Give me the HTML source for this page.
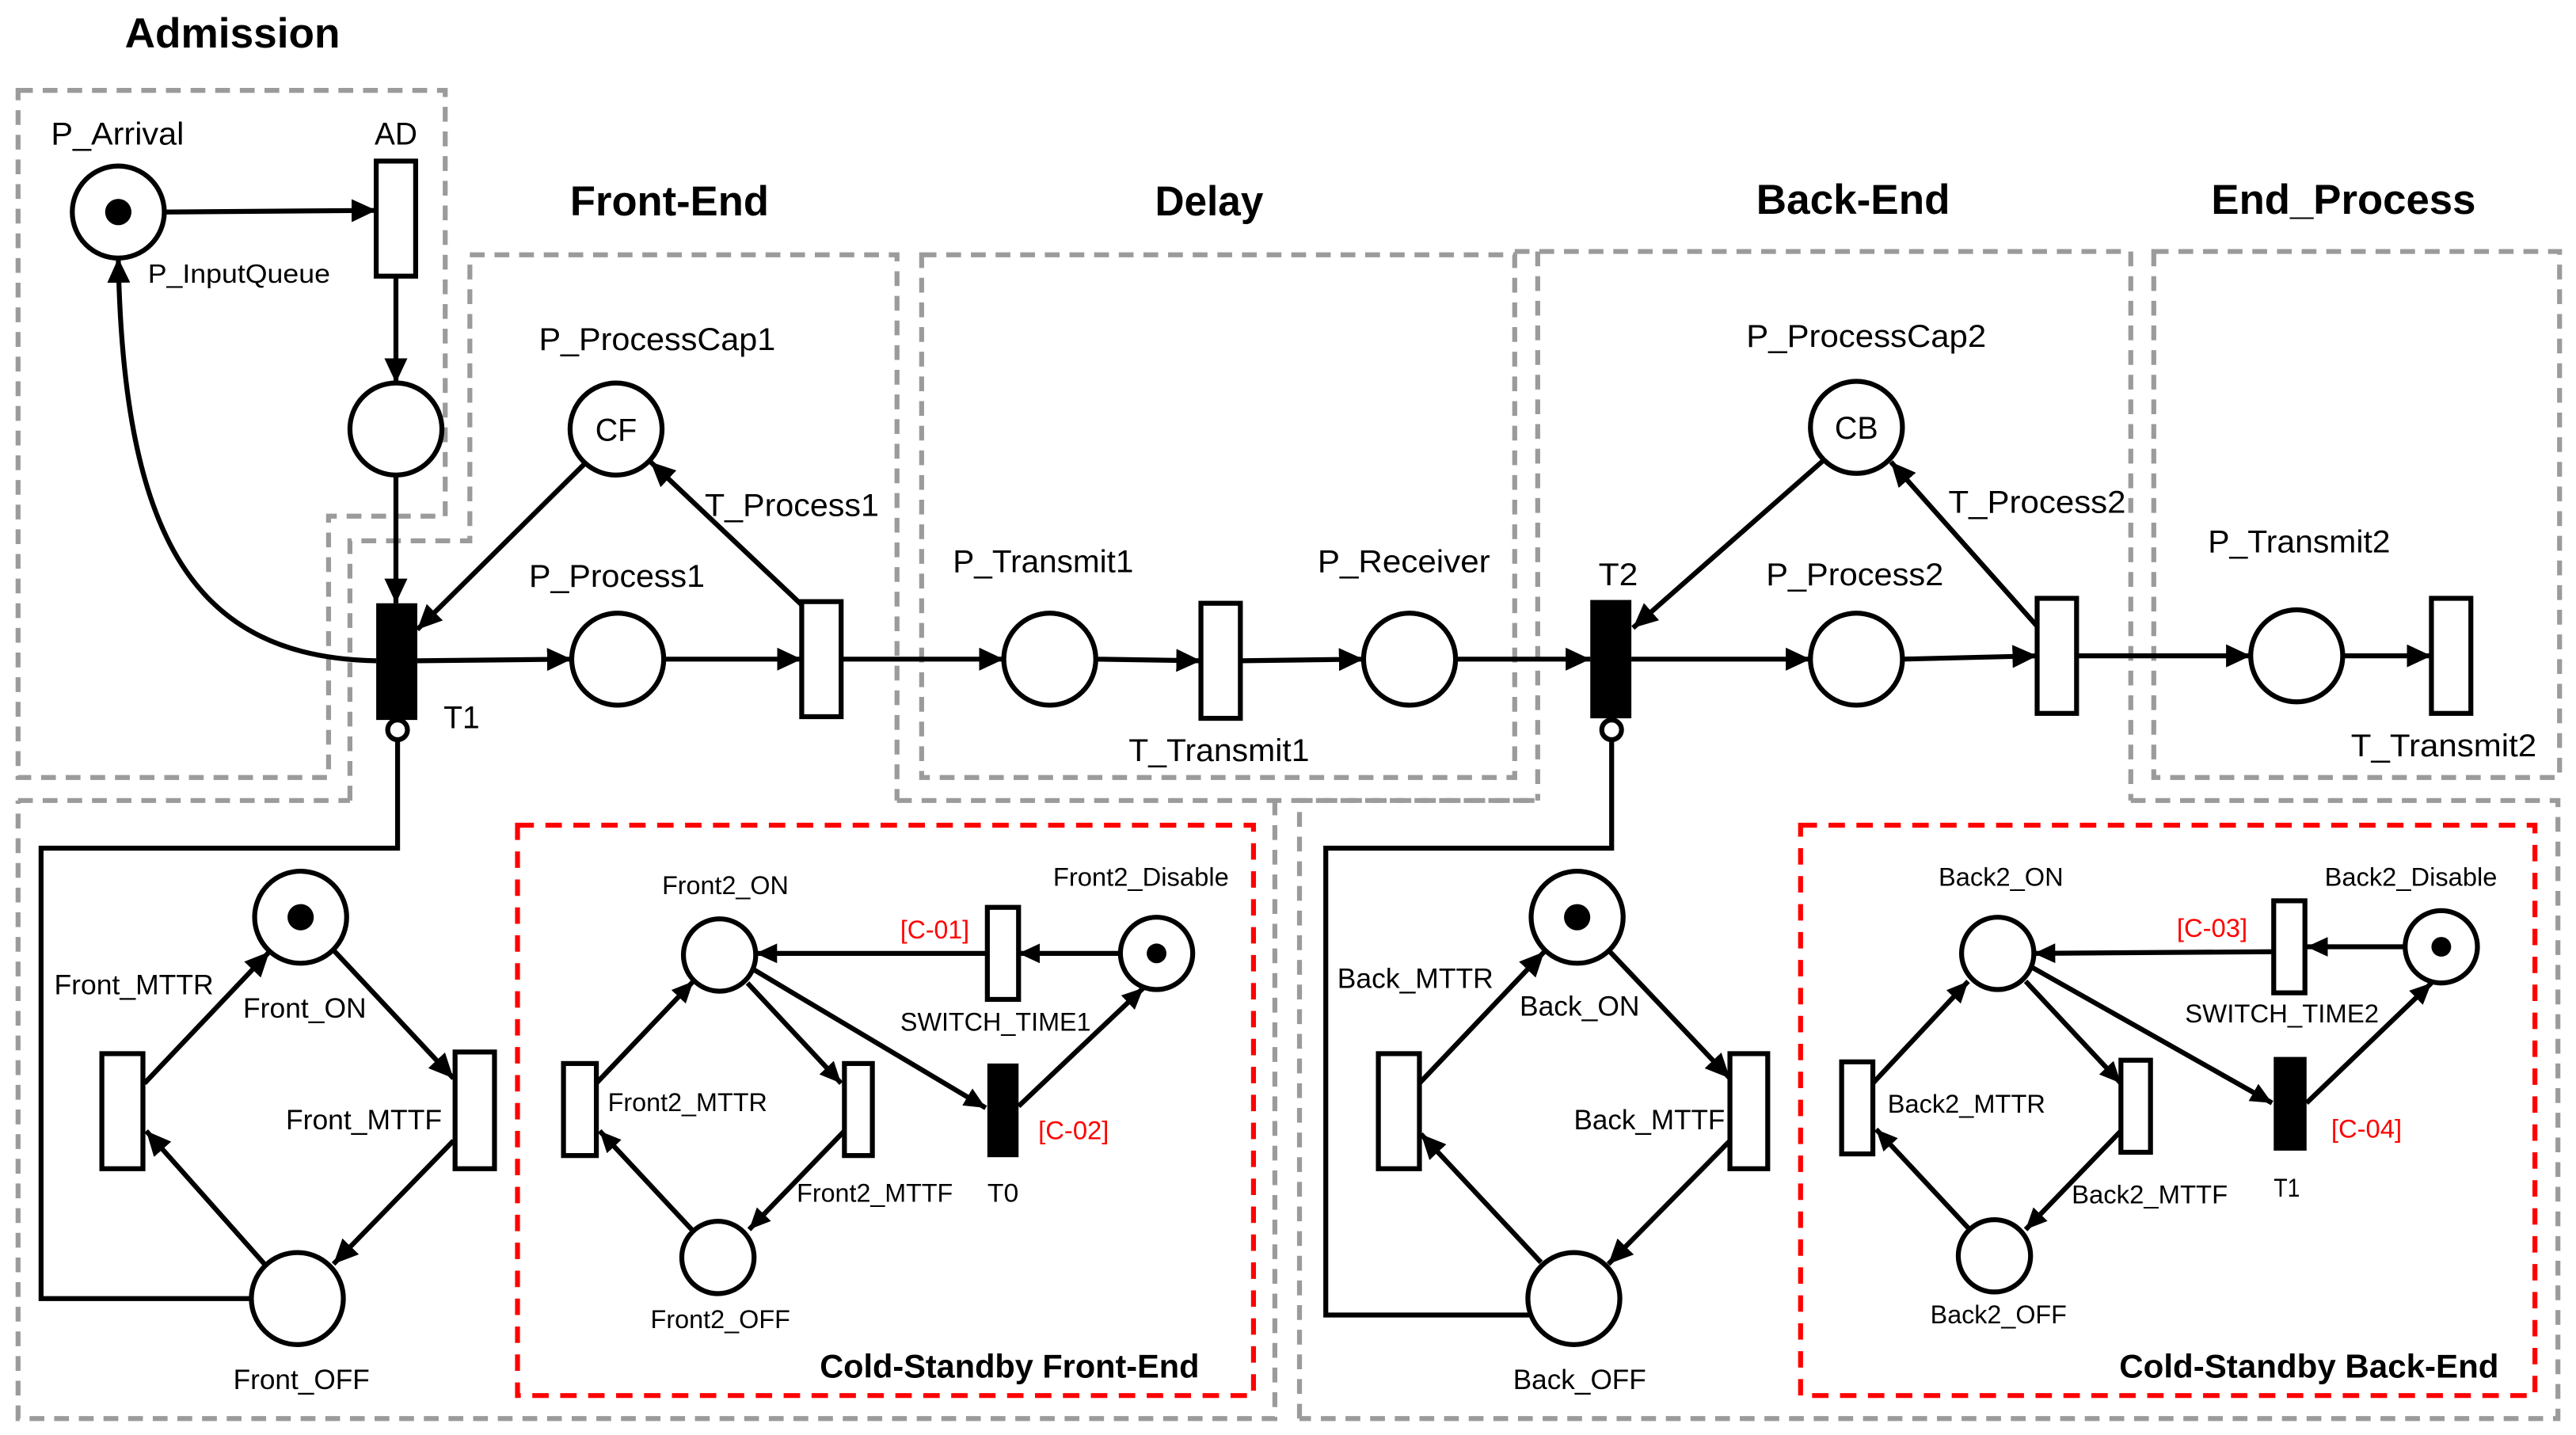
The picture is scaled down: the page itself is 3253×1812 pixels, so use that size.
<!DOCTYPE html>
<html><head><meta charset="utf-8"><style>
html,body{margin:0;padding:0;background:#fff;}
svg{display:block;}
text{font-family:"Liberation Sans",Arial,sans-serif;fill:#000;}
</style></head><body>
<svg width="3253" height="1812" viewBox="0 0 1568 873" preserveAspectRatio="none" xmlns="http://www.w3.org/2000/svg">
<defs>
<marker id="ar" markerUnits="userSpaceOnUse" markerWidth="16" markerHeight="14" refX="15" refY="7" orient="auto"><path d="M0,0 L15,7 L0,14 z" fill="#000"/></marker>
<marker id="as" markerUnits="userSpaceOnUse" markerWidth="14" markerHeight="12" refX="13" refY="6" orient="auto"><path d="M0,0 L13,6 L0,12 z" fill="#000"/></marker>
</defs>
<rect width="1568" height="873" fill="#fff"/>
<!-- gray dashed boxes -->
<g fill="none" stroke="#9b9b9b" stroke-width="3" stroke-dasharray="9,6">
<path d="M11,55 H271 V314 H200 V473 H11 Z"/>
<path d="M213,487 V329 H286 V155 H546 V487"/>
<path d="M11,487 H213 M546,487 H936"/>
<path d="M776,487 V863 H11 V487"/>
<path d="M561,155 H922 V473 H561 Z"/>
<path d="M922,153 H1297 V487 M936,153 V487"/>
<path d="M1311,153 H1558 V473 H1311 Z"/>
<path d="M791,863 V487 H936 M1297,487 H1557 V863 H791"/>
</g>
<!-- red dashed boxes -->
<g fill="none" stroke="#ff0000" stroke-width="3" stroke-dasharray="10,7">
<rect x="315" y="502" width="448" height="347"/>
<rect x="1096" y="502" width="447" height="347"/>
</g>
<!-- titles -->
<g font-weight="bold" font-size="25.5">
<text x="76" y="29" textLength="131" lengthAdjust="spacingAndGlyphs">Admission</text>
<text x="347" y="131" textLength="121" lengthAdjust="spacingAndGlyphs">Front-End</text>
<text x="703" y="131" textLength="66" lengthAdjust="spacingAndGlyphs">Delay</text>
<text x="1069" y="130" textLength="118" lengthAdjust="spacingAndGlyphs">Back-End</text>
<text x="1346" y="130" textLength="161" lengthAdjust="spacingAndGlyphs">End_Process</text>
</g>
<g font-weight="bold" font-size="20" style="fill:#ff0000">
<text x="499" y="838" textLength="231" lengthAdjust="spacingAndGlyphs" fill="#ff0000">Cold-Standby Front-End</text>
<text x="1290" y="838" textLength="231" lengthAdjust="spacingAndGlyphs" fill="#ff0000">Cold-Standby Back-End</text>
</g>
<!-- connectors -->
<g fill="none" stroke="#000" stroke-width="3">
<path d="M100,129 L229,128" marker-end="url(#ar)"/>
<path d="M241,168 L241,233" marker-end="url(#ar)"/>
<path d="M241,289 L241,367" marker-end="url(#ar)"/>
<path d="M229,402 C120,400 75,330 72,157" marker-end="url(#ar)"/>
<path d="M357,281 L254,383" marker-end="url(#ar)"/>
<path d="M488,368 L396,281" marker-end="url(#ar)"/>
<path d="M254,402 L348,401" marker-end="url(#ar)"/>
<path d="M404,401 L488,401" marker-end="url(#ar)"/>
<path d="M513,401 L611,401" marker-end="url(#ar)"/>
<path d="M667,401 L731,402" marker-end="url(#ar)"/>
<path d="M755,402 L830,401" marker-end="url(#ar)"/>
<path d="M886,401 L968,401" marker-end="url(#ar)"/>
<path d="M1110,280 L994,382" marker-end="url(#ar)"/>
<path d="M1240,381 L1151,281" marker-end="url(#ar)"/>
<path d="M993,401 L1102,401" marker-end="url(#ar)"/>
<path d="M1158,401 L1240,399" marker-end="url(#ar)"/>
<path d="M1264,399 L1370,399" marker-end="url(#ar)"/>
<path d="M1426,399 L1480,399" marker-end="url(#ar)"/>
<!-- inhibitor lines -->
<path d="M242,450 V516 H25 V790 H154"/>
<path d="M981,450 V516 H807 V800 H931"/>
<!-- front lower -->
<path d="M88,659 L164,579" marker-end="url(#ar)"/>
<path d="M203,578 L276,656" marker-end="url(#ar)"/>
<path d="M276,694 L203,769" marker-end="url(#ar)"/>
<path d="M161,769 L89,688" marker-end="url(#ar)"/>
<!-- back lower -->
<path d="M864,659 L940,579" marker-end="url(#ar)"/>
<path d="M979,578 L1053,656" marker-end="url(#ar)"/>
<path d="M1053,694 L979,769" marker-end="url(#ar)"/>
<path d="M938,768 L865,690" marker-end="url(#ar)"/>
<!-- red front -->
<path d="M682,580 L620,580" marker-end="url(#as)"/>
<path d="M601,580 L460,580" marker-end="url(#as)"/>
<path d="M459,590 L600,674" marker-end="url(#as)"/>
<path d="M620,673 L696,601" marker-end="url(#as)"/>
<path d="M455,598 L512,659" marker-end="url(#as)"/>
<path d="M514,688 L456,748" marker-end="url(#as)"/>
<path d="M421,748 L365,688" marker-end="url(#as)"/>
<path d="M363,659 L422,597" marker-end="url(#as)"/>
<!-- red back -->
<path d="M1465,576 L1404,576" marker-end="url(#as)"/>
<path d="M1384,579 L1238,580" marker-end="url(#as)"/>
<path d="M1236,588 L1383,671" marker-end="url(#as)"/>
<path d="M1404,671 L1480,598" marker-end="url(#as)"/>
<path d="M1233,597 L1291,659" marker-end="url(#as)"/>
<path d="M1291,688 L1233,748" marker-end="url(#as)"/>
<path d="M1198,747 L1142,687" marker-end="url(#as)"/>
<path d="M1140,659 L1198,597" marker-end="url(#as)"/>
</g>
<!-- places -->
<g fill="#fff" stroke="#000" stroke-width="3">
<circle cx="72" cy="129" r="28"/>
<circle cx="241" cy="261" r="28"/>
<circle cx="375" cy="261" r="28"/>
<circle cx="376" cy="401" r="28"/>
<circle cx="639" cy="401" r="28"/>
<circle cx="858" cy="401" r="28"/>
<circle cx="1130" cy="260" r="28"/>
<circle cx="1130" cy="401" r="28"/>
<circle cx="1398" cy="399" r="28"/>
<circle cx="183" cy="558" r="28"/>
<circle cx="181" cy="790" r="28"/>
<circle cx="960" cy="558" r="28"/>
<circle cx="958" cy="790" r="28"/>
<circle cx="438" cy="581" r="22"/>
<circle cx="704" cy="580" r="22"/>
<circle cx="437" cy="765" r="22"/>
<circle cx="1216" cy="580" r="22"/>
<circle cx="1486" cy="576" r="22"/>
<circle cx="1214" cy="764" r="22"/>
<!-- transitions -->
<rect x="229" y="98" width="24" height="70"/>
<rect x="488" y="366" width="24" height="70"/>
<rect x="731" y="367" width="24" height="70"/>
<rect x="1240" y="364" width="24" height="70"/>
<rect x="1480" y="364" width="24" height="70"/>
<rect x="62" y="641" width="25" height="70"/>
<rect x="277" y="640" width="24" height="71"/>
<rect x="839" y="641" width="25" height="70"/>
<rect x="1053" y="641" width="23" height="70"/>
<rect x="601" y="552" width="19" height="56"/>
<rect x="343" y="647" width="20" height="56"/>
<rect x="514" y="647" width="17" height="56"/>
<rect x="1384" y="548" width="19" height="56"/>
<rect x="1121" y="646" width="19" height="56"/>
<rect x="1291" y="645" width="18" height="56"/>
<circle cx="242" cy="444" r="6"/>
<circle cx="981" cy="444" r="6"/>
</g>
<g fill="#000">
<rect x="229" y="367" width="25" height="71"/>
<rect x="968" y="365" width="25" height="72"/>
<rect x="601" y="647" width="19" height="57"/>
<rect x="1384" y="643" width="20" height="57"/>
<circle cx="72" cy="129" r="8"/>
<circle cx="183" cy="558" r="8"/>
<circle cx="960" cy="558" r="8"/>
<circle cx="704" cy="580" r="6"/>
<circle cx="1486" cy="576" r="6"/>
</g>
<!-- labels -->
<g font-size="19" lengthAdjust="spacingAndGlyphs">
<text x="31" y="88" textLength="81" lengthAdjust="spacingAndGlyphs">P_Arrival</text>
<text x="228" y="88" textLength="26" lengthAdjust="spacingAndGlyphs">AD</text>
<text x="328" y="213" textLength="144" lengthAdjust="spacingAndGlyphs">P_ProcessCap1</text>
<text x="429" y="314" textLength="106" lengthAdjust="spacingAndGlyphs">T_Process1</text>
<text x="322" y="357" textLength="107" lengthAdjust="spacingAndGlyphs">P_Process1</text>
<text x="270" y="443" textLength="22" lengthAdjust="spacingAndGlyphs">T1</text>
<text x="580" y="348" textLength="110" lengthAdjust="spacingAndGlyphs">P_Transmit1</text>
<text x="802" y="348" textLength="105" lengthAdjust="spacingAndGlyphs">P_Receiver</text>
<text x="687" y="463" textLength="110" lengthAdjust="spacingAndGlyphs">T_Transmit1</text>
<text x="973" y="356" textLength="24" lengthAdjust="spacingAndGlyphs">T2</text>
<text x="1063" y="211" textLength="146" lengthAdjust="spacingAndGlyphs">P_ProcessCap2</text>
<text x="1186" y="312" textLength="108" lengthAdjust="spacingAndGlyphs">T_Process2</text>
<text x="1075" y="356" textLength="108" lengthAdjust="spacingAndGlyphs">P_Process2</text>
<text x="1344" y="336" textLength="111" lengthAdjust="spacingAndGlyphs">P_Transmit2</text>
<text x="1431" y="460" textLength="113" lengthAdjust="spacingAndGlyphs">T_Transmit2</text>
<text x="375" y="268" text-anchor="middle">CF</text>
<text x="1130" y="267" text-anchor="middle">CB</text>
</g>
<g font-size="16">
<text x="90" y="172" textLength="111" lengthAdjust="spacingAndGlyphs">P_InputQueue</text>
</g>
<g font-size="17">
<text x="33" y="605" textLength="97" lengthAdjust="spacingAndGlyphs">Front_MTTR</text>
<text x="148" y="619" textLength="75" lengthAdjust="spacingAndGlyphs">Front_ON</text>
<text x="174" y="687" textLength="95" lengthAdjust="spacingAndGlyphs">Front_MTTF</text>
<text x="142" y="845" textLength="83" lengthAdjust="spacingAndGlyphs">Front_OFF</text>
<text x="814" y="601" textLength="95" lengthAdjust="spacingAndGlyphs">Back_MTTR</text>
<text x="925" y="618" textLength="73" lengthAdjust="spacingAndGlyphs">Back_ON</text>
<text x="958" y="687" textLength="92" lengthAdjust="spacingAndGlyphs">Back_MTTF</text>
<text x="921" y="845" textLength="81" lengthAdjust="spacingAndGlyphs">Back_OFF</text>
</g>
<g font-size="15.5">
<text x="403" y="544" textLength="77" lengthAdjust="spacingAndGlyphs">Front2_ON</text>
<text x="641" y="539" textLength="107" lengthAdjust="spacingAndGlyphs">Front2_Disable</text>
<text x="548" y="627" textLength="116" lengthAdjust="spacingAndGlyphs">SWITCH_TIME1</text>
<text x="370" y="676" textLength="97" lengthAdjust="spacingAndGlyphs">Front2_MTTR</text>
<text x="485" y="731" textLength="95" lengthAdjust="spacingAndGlyphs">Front2_MTTF</text>
<text x="601" y="731" textLength="19" lengthAdjust="spacingAndGlyphs">T0</text>
<text x="396" y="808" textLength="85" lengthAdjust="spacingAndGlyphs">Front2_OFF</text>
<text x="1180" y="539" textLength="76" lengthAdjust="spacingAndGlyphs">Back2_ON</text>
<text x="1415" y="539" textLength="105" lengthAdjust="spacingAndGlyphs">Back2_Disable</text>
<text x="1330" y="622" textLength="118" lengthAdjust="spacingAndGlyphs">SWITCH_TIME2</text>
<text x="1149" y="677" textLength="96" lengthAdjust="spacingAndGlyphs">Back2_MTTR</text>
<text x="1261" y="732" textLength="95" lengthAdjust="spacingAndGlyphs">Back2_MTTF</text>
<text x="1384" y="728" textLength="16" lengthAdjust="spacingAndGlyphs">T1</text>
<text x="1175" y="805" textLength="83" lengthAdjust="spacingAndGlyphs">Back2_OFF</text>
<text x="548" y="571" textLength="42" lengthAdjust="spacingAndGlyphs" style="fill:#ff0000">[C-01]</text>
<text x="632" y="693" textLength="43" lengthAdjust="spacingAndGlyphs" style="fill:#ff0000">[C-02]</text>
<text x="1325" y="570" textLength="43" lengthAdjust="spacingAndGlyphs" style="fill:#ff0000">[C-03]</text>
<text x="1419" y="692" textLength="43" lengthAdjust="spacingAndGlyphs" style="fill:#ff0000">[C-04]</text>
</g>
</svg>
</body></html>
